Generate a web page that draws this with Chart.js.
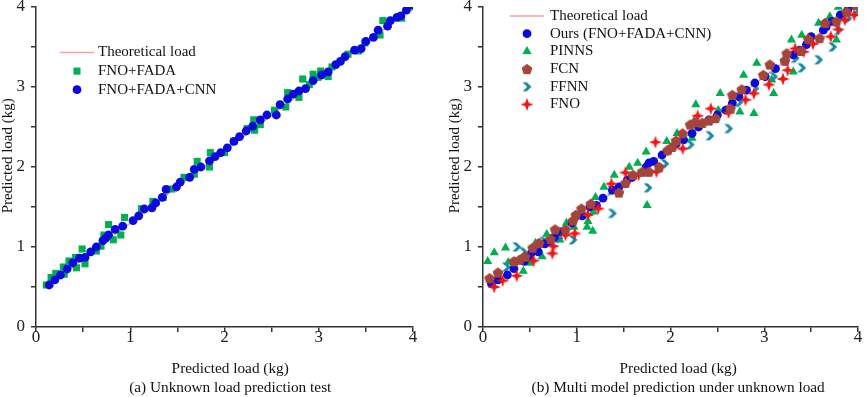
<!DOCTYPE html>
<html>
<head>
<meta charset="utf-8">
<title>Unknown load prediction</title>
<script src="https://cdn.jsdelivr.net/npm/chart.js@4.4.1/dist/chart.umd.min.js"></script>
<style>
  html, body { margin: 0; padding: 0; background: #fff; }
  #wrap { position: relative; width: 865px; height: 397px; overflow: hidden; }
  canvas { position: absolute; top: 0; }
  #chartA { left: 0; }
  #chartB { left: 447px; }
</style>
</head>
<body>
<div id="wrap">
  <canvas id="chartA" width="447" height="397"></canvas>
  <canvas id="chartB" width="418" height="397"></canvas>
</div>
<script>
// ---- axis ticks (both panels) ----
const majorTicks = [0, 1, 2, 3, 4];
const minorTicks = [0.5, 1.5, 2.5, 3.5];

// ---- (a) Unknown load prediction test ----
const theoryAX = [0.1, 4.0];
const theoryAY = [0.49, 4.0];
const fadaX = [0.11,0.16,0.21,0.29,0.30,0.35,0.42,0.43,0.49,0.52,0.64,0.69,0.72,0.77,0.82,0.90,0.94,1.12,1.24,1.35,1.44,1.57,1.68,1.71,1.84,1.85,2.00,2.10,2.24,2.31,2.32,2.38,2.53,2.65,2.67,2.79,2.83,2.90,2.94,2.99,3.02,3.10,3.14,3.31,3.42,3.49,3.65,3.68,3.88,3.99];
const fadaY = [0.525,0.62,0.67,0.75,0.66,0.825,0.87,0.74,0.975,0.79,0.95,1.01,1.15,1.28,1.09,1.15,1.37,1.48,1.57,1.62,1.725,1.87,1.91,2.07,2.00,2.18,2.18,2.32,2.48,2.59,2.46,2.53,2.71,2.75,2.93,2.87,3.10,3.03,3.16,3.12,3.20,3.13,3.25,3.41,3.45,3.55,3.65,3.83,3.86,4.00];
const cnnX = [0.14,0.20,0.26,0.33,0.39,0.46,0.52,0.58,0.64,0.71,0.74,0.77,0.84,0.92,1.03,1.09,1.15,1.23,1.27,1.34,1.38,1.49,1.53,1.63,1.68,1.75,1.84,1.90,1.96,2.03,2.10,2.16,2.23,2.30,2.38,2.45,2.55,2.59,2.67,2.73,2.79,2.86,2.94,3.03,3.10,3.18,3.23,3.28,3.38,3.45,3.50,3.58,3.63,3.73,3.76,3.83,3.87,3.93,3.99];
const cnnY = [0.525,0.59,0.65,0.725,0.80,0.86,0.87,0.94,1.00,1.08,1.11,1.15,1.22,1.26,1.33,1.39,1.475,1.49,1.55,1.62,1.72,1.75,1.81,1.87,1.97,2.00,2.075,2.13,2.18,2.24,2.32,2.38,2.45,2.51,2.59,2.65,2.65,2.78,2.85,2.91,2.95,2.98,3.08,3.15,3.19,3.28,3.32,3.38,3.46,3.48,3.57,3.62,3.71,3.76,3.83,3.87,3.89,3.96,4.03];

// ---- (b) Multi model prediction under unknown load ----
const theoryBX = [0.08, 4.0];
const theoryBY = [0.52, 4.02];
const oursX = [0.09,0.16,0.26,0.33,0.44,0.49,0.52,0.59,0.66,0.71,0.76,0.83,0.95,1.06,1.14,1.21,1.28,1.38,1.45,1.54,1.59,1.74,1.77,1.82,1.91,1.97,2.06,2.14,2.23,2.30,2.41,2.50,2.59,2.66,2.73,2.81,2.90,3.01,3.12,3.22,3.31,3.38,3.45,3.50,3.63,3.66,3.72,3.81,3.89,3.96];
const oursY = [0.54,0.59,0.65,0.73,0.82,0.88,0.93,0.94,1.04,1.07,1.12,1.19,1.30,1.39,1.50,1.52,1.61,1.71,1.75,1.84,1.87,2.00,2.05,2.07,2.15,2.20,2.29,2.34,2.42,2.50,2.59,2.65,2.71,2.80,2.88,2.96,3.05,3.13,3.23,3.32,3.40,3.46,3.53,3.63,3.71,3.75,3.82,3.90,3.96,4.03];
const pinnX = [0.05,0.12,0.24,0.27,0.43,0.50,0.56,0.63,0.68,0.82,0.89,0.97,1.11,1.12,1.17,1.18,1.20,1.29,1.40,1.56,1.65,1.74,1.75,1.96,2.07,2.23,2.25,2.27,2.51,2.53,2.74,2.78,2.89,2.92,3.08,3.10,3.29,3.31,3.40,3.58,3.70,3.77,3.79,3.96];
const pinnY = [0.82,0.93,0.99,0.81,0.70,0.80,1.05,0.88,1.16,1.09,1.30,1.25,1.25,1.32,1.20,1.44,1.62,1.75,1.90,2.00,2.05,2.19,1.52,2.32,2.42,2.36,2.57,2.78,2.71,2.92,2.69,3.15,2.67,3.30,3.09,2.92,3.59,3.19,3.65,3.80,3.88,3.59,4.00,4.00];
const fcnX = [0.07,0.16,0.33,0.39,0.45,0.53,0.60,0.72,0.77,0.88,0.96,0.99,1.05,1.15,1.45,1.52,1.60,1.70,1.77,1.88,1.97,2.02,2.06,2.13,2.21,2.27,2.34,2.41,2.48,2.64,2.66,2.76,2.99,3.06,3.22,3.24,3.39,3.47,3.59,3.65,3.77,3.88,3.98];
const fcnY = [0.61,0.68,0.82,0.84,0.88,0.99,1.05,1.10,1.22,1.22,1.33,1.40,1.48,1.54,1.68,1.80,1.90,1.94,1.94,2.00,2.21,2.25,2.33,2.42,2.53,2.56,2.55,2.58,2.61,2.73,2.90,2.97,3.15,3.28,3.33,3.42,3.45,3.60,3.61,3.80,3.82,3.94,4.03];
const ffnnX = [0.25,0.36,0.43,0.65,0.81,0.96,1.37,1.38,1.76,1.94,2.21,2.42,2.62,2.73,2.90,3.10,3.33,3.40,3.58,3.73,3.79,3.89,3.98];
const ffnnY = [0.75,1.00,0.94,1.07,1.11,1.09,1.71,1.42,1.74,2.04,2.28,2.39,2.48,2.81,2.98,3.13,3.36,3.24,3.34,3.50,3.71,3.86,3.96];
const fnoX = [0.12,0.21,0.36,0.54,0.74,0.75,0.88,0.98,1.12,1.23,1.37,1.52,1.66,1.84,1.85,2.13,2.29,2.43,2.62,2.80,2.89,3.05,3.20,3.25,3.33,3.42,3.52,3.71,3.79,3.86,3.96];
const fnoY = [0.50,0.58,0.64,0.83,0.92,1.01,1.15,1.17,1.40,1.48,1.79,1.93,1.90,2.31,1.94,2.23,2.64,2.73,2.68,2.84,2.92,3.03,3.10,3.21,3.48,3.44,3.54,3.63,3.72,3.84,3.90];

// ---- styling ----
const SERIF = '"Liberation Serif", "Times New Roman", serif';
const PINK = '#f5a3a3';
const BLUE = '#0a0adc';
const GREEN = '#00b050';
const BROWN = '#a4453c';
const TEAL = '#1a8aa0';
const RED = '#f51414';
const AXIS = '#333333';

const toPoints = (xs, ys) => xs.map((x, i) => ({ x: x, y: ys[i] }));

// small canvases for the marker shapes Chart.js does not have
function makeMarker(size, color, path) {
  const c = document.createElement('canvas');
  c.width = size;
  c.height = size;
  const g = c.getContext('2d');
  g.fillStyle = color;
  g.beginPath();
  path(g, size / 2);
  g.closePath();
  g.fill();
  return c;
}

const pentagon = makeMarker(12, BROWN, (g, c) => {
  for (let k = 0; k < 5; k++) {
    const a = -Math.PI / 2 + k * 2 * Math.PI / 5;
    g.lineTo(c + 5.7 * Math.cos(a), c + 0.4 + 5.7 * Math.sin(a));
  }
});
const chevron = makeMarker(12, TEAL, (g) => {
  g.moveTo(1.5, 1.5);
  g.lineTo(5.8, 1.5);
  g.lineTo(10.5, 6);
  g.lineTo(5.8, 10.5);
  g.lineTo(1.5, 10.5);
  g.lineTo(6.2, 6);
});
const star4 = makeMarker(14, RED, (g, c) => {
  for (let k = 0; k < 8; k++) {
    const r = k % 2 ? 2.4 : 6.6;
    const a = -Math.PI / 2 + k * Math.PI / 4;
    g.lineTo(c + r * Math.cos(a), c + r * Math.sin(a));
  }
});

function theoryLine(xs, ys) {
  return {
    label: 'Theoretical load',
    data: toPoints(xs, ys),
    showLine: true,
    borderColor: PINK,
    borderWidth: 1.5,
    pointRadius: 0,
    order: 10
  };
}

function markers(label, xs, ys, style, radius, color, order) {
  return {
    label: label,
    data: toPoints(xs, ys),
    pointStyle: style,
    pointRadius: radius,
    backgroundColor: color,
    borderColor: color,
    borderWidth: 0,
    order: order
  };
}

// draws one legend symbol the same way the point is drawn
function drawSymbol(ctx, ds, x, y) {
  ctx.save();
  if (ds.showLine) {
    ctx.strokeStyle = ds.borderColor;
    ctx.lineWidth = ds.borderWidth;
    ctx.beginPath();
    ctx.moveTo(x - 17, y);
    ctx.lineTo(x + 17, y);
    ctx.stroke();
  } else if (ds.pointStyle instanceof HTMLCanvasElement) {
    const im = ds.pointStyle;
    ctx.drawImage(im, x - im.width / 2, y - im.height / 2);
  } else {
    const r = ds.pointRadius;
    ctx.fillStyle = ds.backgroundColor;
    ctx.beginPath();
    if (ds.pointStyle === 'rect') {
      const h = r * Math.SQRT1_2;
      ctx.rect(x - h, y - h, 2 * h, 2 * h);
    } else if (ds.pointStyle === 'triangle') {
      for (let k = 0; k < 3; k++) {
        const a = k * 2 * Math.PI / 3;
        ctx.lineTo(x + Math.sin(a) * r, y - Math.cos(a) * r);
      }
      ctx.closePath();
    } else {
      ctx.arc(x, y, r, 0, Math.PI * 2);
    }
    ctx.fill();
  }
  ctx.restore();
}

// legend drawn inside the plot area, one row per dataset
const insideLegend = {
  id: 'insideLegend',
  afterDatasetsDraw(chart, args, opts) {
    const ctx = chart.ctx;
    ctx.save();
    ctx.font = '15px ' + SERIF;
    ctx.textBaseline = 'middle';
    ctx.textAlign = 'left';
    chart.data.datasets.forEach((ds, i) => {
      const y = opts.top + i * opts.gap;
      drawSymbol(ctx, ds, opts.symbolX, y);
      ctx.fillStyle = '#111';
      ctx.fillText(ds.label, opts.textX, y);
    });
    ctx.restore();
  }
};

// leading spaces nudge the centred titles the way the original is set
const pad = (n, s) => ' '.repeat(n) + s;

function axis(title, horizontal) {
  return {
    type: 'linear',
    min: 0,
    max: 4,
    afterBuildTicks: (s) => {
      s.ticks = majorTicks.concat(minorTicks).sort((a, b) => a - b).map(v => ({ value: v }));
    },
    afterFit: (s) => {
      if (horizontal) s.height = 70; else s.width = 36;
      s.paddingTop = 0; s.paddingBottom = 0; s.paddingLeft = 0; s.paddingRight = 0;
    },
    ticks: {
      autoSkip: false,
      maxRotation: 0,
      color: '#222',
      padding: horizontal ? -3 : 6,
      font: { family: SERIF, size: 17, lineHeight: 1 },
      callback: (v) => majorTicks.includes(v) ? String(v) : ''
    },
    grid: { drawOnChartArea: false, drawTicks: true, tickLength: 5, color: AXIS, lineWidth: 1.5 },
    border: { display: true, color: AXIS, width: 1.5 },
    title: {
      display: true,
      text: title,
      color: '#111',
      font: { family: SERIF, size: horizontal ? 15.3 : 15, lineHeight: horizontal ? 1.2 : 1 },
      padding: horizontal ? 0 : { top: 1, bottom: 0 }
    }
  };
}

function makeChart(id, datasets, caption, shift, legendOpts, width) {
  return new Chart(document.getElementById(id), {
    type: 'scatter',
    data: { datasets: datasets },
    options: {
      responsive: false,
      animation: false,
      events: [],
      layout: { padding: { top: 7, left: 0, bottom: 0, right: width - 413 } },
      scales: {
        x: axis([pad(shift, 'Predicted load (kg)'), pad(shift, caption)], true),
        y: axis(pad(6, 'Predicted load (kg)'), false)
      },
      plugins: {
        legend: { display: false },
        tooltip: { enabled: false },
        insideLegend: legendOpts
      }
    },
    plugins: [insideLegend]
  });
}

makeChart('chartA', [
  theoryLine(theoryAX, theoryAY),
  markers('FNO+FADA', fadaX, fadaY, 'rect', 5, GREEN, 2),
  markers('FNO+FADA+CNN', cnnX, cnnY, 'circle', 4.4, BLUE, 1)
], '(a) Unknown load prediction test', 3, { symbolX: 77, textX: 98, top: 52.5, gap: 18.6 }, 447);

makeChart('chartB', [
  theoryLine(theoryBX, theoryBY),
  markers('Ours (FNO+FADA+CNN)', oursX, oursY, 'circle', 4.4, BLUE, 3),
  markers('PINNS', pinnX, pinnY, 'triangle', 5.3, GREEN, 5),
  markers('FCN', fcnX, fcnY, pentagon, 6, BROWN, 1),
  markers('FFNN', ffnnX, ffnnY, chevron, 6, TEAL, 4),
  markers('FNO', fnoX, fnoY, star4, 7, RED, 2)
], '(b) Multi model prediction under unknown load', 4, { symbolX: 80, textX: 103, top: 16, gap: 17.7 }, 418);
</script>
</body>
</html>
